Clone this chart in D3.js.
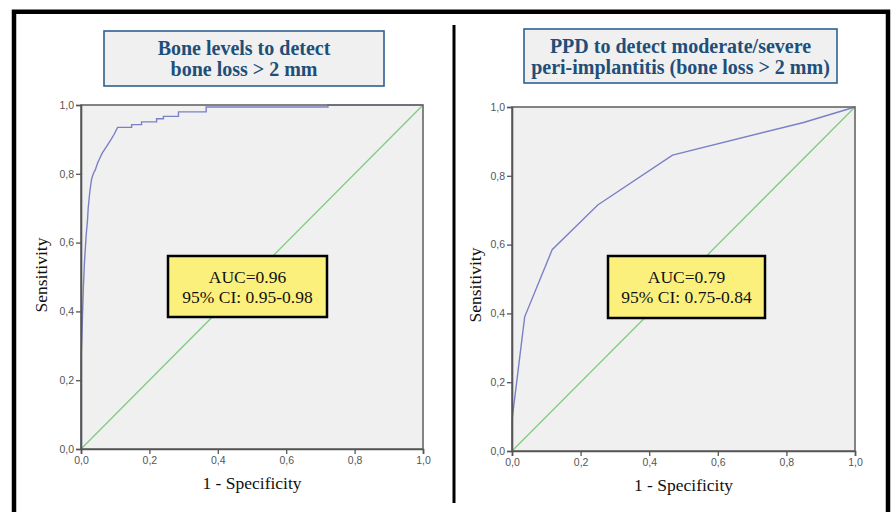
<!DOCTYPE html>
<html>
<head>
<meta charset="utf-8">
<script src="https://cdn.jsdelivr.net/npm/d3@7"></script>
<style>
  body { margin: 0; background: #fff; }
  svg { display: block; }
</style>
</head>
<body>
<div id="main"></div>
<script>
// tick values shared by both axes
const ticks = [0, 0.2, 0.4, 0.6, 0.8, 1.0];

// left panel: bone levels ROC (1 - specificity, sensitivity)
const boneFpr = [0, 0, 0.002, 0.004, 0.007, 0.010, 0.015, 0.019, 0.021, 0.026, 0.031, 0.036, 0.042, 0.048, 0.055, 0.062, 0.075, 0.088, 0.097, 0.107, 0.148, 0.148, 0.177, 0.177, 0.221, 0.221, 0.241, 0.241, 0.285, 0.285, 0.366, 0.366, 0.722, 0.722, 1];
const boneTpr = [0, 0.26, 0.31, 0.375, 0.47, 0.54, 0.62, 0.665, 0.70, 0.75, 0.785, 0.80, 0.812, 0.83, 0.845, 0.86, 0.88, 0.90, 0.915, 0.935, 0.935, 0.943, 0.943, 0.951, 0.951, 0.960, 0.960, 0.967, 0.967, 0.980, 0.980, 0.994, 0.994, 1, 1];

// right panel: PPD ROC
const ppdFpr = [0, 0, 0.037, 0.117, 0.25, 0.468, 0.85, 1];
const ppdTpr = [0, 0.09, 0.39, 0.585, 0.715, 0.86, 0.955, 1];

// reference diagonal
const diagonal = [0, 1];

const boneTitle = ["Bone levels to detect", "bone loss > 2 mm"];
const ppdTitle = ["PPD to detect moderate/severe", "peri-implantitis (bone loss > 2 mm)"];
const boneAuc = ["AUC=0.96", "95% CI: 0.95-0.98"];
const ppdAuc = ["AUC=0.79", "95% CI: 0.75-0.84"];

const width = 892;
const height = 512;

const svg = d3.select("#main")
  .append("svg")
  .attr("width", width)
  .attr("height", height);

// outer frame and divider
svg.append("path")
  .attr("d", "M14,530 L14,11.8 L888,11.8 L888,530")
  .attr("fill", "none")
  .attr("stroke", "#000")
  .attr("stroke-width", 4.5);

svg.append("line")
  .attr("x1", 454).attr("x2", 454)
  .attr("y1", 25).attr("y2", 503)
  .attr("stroke", "#000")
  .attr("stroke-width", 3);

const drawPanel = (opt) => {
  const x = d3.scaleLinear().domain([0, 1]).range([opt.x0, opt.x1]);
  const y = d3.scaleLinear().domain([0, 1]).range([opt.y1, opt.y0]);
  const g = svg.append("g");

  // title box
  g.append("rect")
    .attr("x", opt.title.x).attr("y", opt.title.y)
    .attr("width", opt.title.w).attr("height", opt.title.h)
    .attr("fill", "#f0f0f0")
    .attr("stroke", "#2f5f8f")
    .attr("stroke-width", 1.6);

  g.append("g")
    .selectAll("text")
    .data(opt.titleLines)
    .enter()
    .append("text")
    .attr("x", opt.title.x + opt.title.w / 2)
    .attr("y", (d, i) => opt.title.y + 23.5 + i * 21.5)
    .attr("text-anchor", "middle")
    .attr("font-family", "Liberation Serif, Times New Roman, serif")
    .attr("font-weight", "bold")
    .attr("font-size", 20)
    .attr("fill", "#1f4e79")
    .text(d => d);

  // plot background
  g.append("rect")
    .attr("x", opt.x0).attr("y", opt.y0)
    .attr("width", opt.x1 - opt.x0).attr("height", opt.y1 - opt.y0)
    .attr("fill", "#f0f0f0");

  // diagonal
  g.append("line")
    .attr("x1", x(diagonal[0])).attr("y1", y(diagonal[0]))
    .attr("x2", x(diagonal[1])).attr("y2", y(diagonal[1]))
    .attr("stroke", "#7fcc7f")
    .attr("stroke-width", 1.3);

  // roc curve
  const pts = opt.fpr.map((v, i) => [v, opt.tpr[i]]);
  g.append("path")
    .datum(pts)
    .attr("d", d3.line().x(d => x(d[0])).y(d => y(d[1])))
    .attr("fill", "none")
    .attr("stroke", "#7b80c6")
    .attr("stroke-width", 1.4);

  // frame of plot
  g.append("rect")
    .attr("x", opt.x0).attr("y", opt.y0)
    .attr("width", opt.x1 - opt.x0).attr("height", opt.y1 - opt.y0)
    .attr("fill", "none")
    .attr("stroke", "#666")
    .attr("stroke-width", 1.6);

  const fmt = d => d3.format(".1f")(d).replace(".", ",");

  const xAxis = d3.axisBottom(x).tickValues(ticks).tickFormat(fmt).tickSize(5).tickPadding(3);
  const yAxis = d3.axisLeft(y).tickValues(ticks).tickFormat(fmt).tickSize(5).tickPadding(2);

  const gx = g.append("g")
    .attr("transform", "translate(0," + opt.y1 + ")")
    .call(xAxis);
  const gy = g.append("g")
    .attr("transform", "translate(" + opt.x0 + ",0)")
    .call(yAxis);

  [gx, gy].forEach(ax => {
    ax.select(".domain").attr("stroke", "#555").attr("stroke-width", 1.6);
    ax.selectAll(".tick line").attr("stroke", "#555").attr("stroke-width", 1.3);
    ax.selectAll(".tick text")
      .attr("font-family", "Liberation Sans, Arial, sans-serif")
      .attr("font-size", 10.5)
      .attr("fill", "#555");
  });

  // axis labels
  g.append("text")
    .attr("x", (opt.x0 + opt.x1) / 2)
    .attr("y", opt.y1 + 40)
    .attr("text-anchor", "middle")
    .attr("font-family", "Liberation Serif, Times New Roman, serif")
    .attr("font-size", 17.5)
    .attr("fill", "#111")
    .text("1 - Specificity");

  g.append("text")
    .attr("transform", "translate(" + opt.ylabX + "," + opt.ylabY + ") rotate(-90)")
    .attr("text-anchor", "middle")
    .attr("font-family", "Liberation Serif, Times New Roman, serif")
    .attr("font-size", 17.5)
    .attr("fill", "#111")
    .text("Sensitivity");

  // AUC box
  g.append("rect")
    .attr("x", opt.auc.x).attr("y", opt.auc.y)
    .attr("width", opt.auc.w).attr("height", opt.auc.h)
    .attr("fill", "#fbf07c")
    .attr("stroke", "#000")
    .attr("stroke-width", 2.5);

  g.append("g")
    .selectAll("text")
    .data(opt.aucLines)
    .enter()
    .append("text")
    .attr("x", opt.auc.x + opt.auc.w / 2)
    .attr("y", (d, i) => opt.auc.y + 27 + i * 19.5)
    .attr("text-anchor", "middle")
    .attr("font-family", "Liberation Serif, Times New Roman, serif")
    .attr("font-size", 17.5)
    .attr("fill", "#111")
    .text(d => d);
};

drawPanel({
  x0: 81, x1: 423, y0: 105, y1: 449,
  fpr: boneFpr, tpr: boneTpr,
  titleLines: boneTitle,
  title: { x: 104, y: 31, w: 280, h: 55 },
  aucLines: boneAuc,
  auc: { x: 168, y: 256, w: 159, h: 61 },
  ylabX: 47, ylabY: 275
});

drawPanel({
  x0: 512, x1: 855, y0: 107, y1: 451,
  fpr: ppdFpr, tpr: ppdTpr,
  titleLines: ppdTitle,
  title: { x: 524, y: 29, w: 313, h: 54 },
  aucLines: ppdAuc,
  auc: { x: 608, y: 256, w: 157, h: 62 },
  ylabX: 481, ylabY: 285
});
</script>
</body>
</html>
